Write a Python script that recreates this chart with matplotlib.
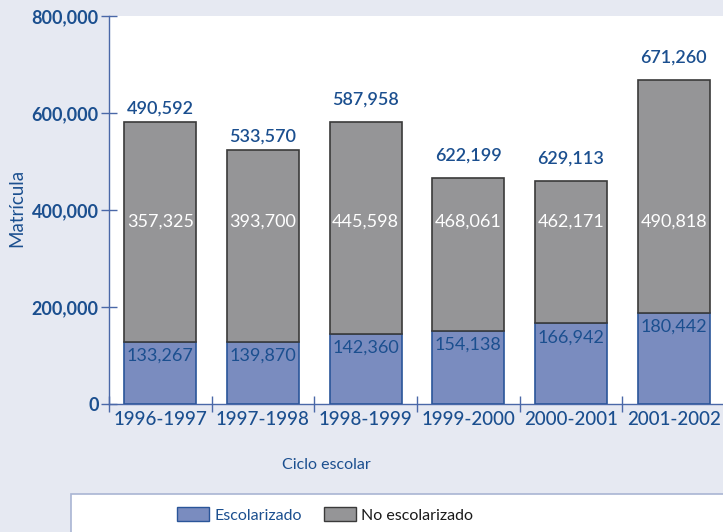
import matplotlib
matplotlib.use("Agg")
import matplotlib.pyplot as plt
from matplotlib.patches import Rectangle, Patch
from matplotlib.ticker import FuncFormatter

# ---- data ----
ciclos = ["1996-1997", "1997-1998", "1998-1999", "1999-2000", "2000-2001", "2001-2002"]
# printed values
escolarizado = [133267, 139870, 142360, 154138, 166942, 180442]
no_escolarizado = [357325, 393700, 445598, 468061, 462171, 490818]
total = [490592, 533570, 587958, 622199, 629113, 671260]
# bar heights as drawn in the reference
escolarizado_bar = [129000, 129000, 145000, 151000, 167000, 189000]
total_bar = [582000, 524000, 583000, 466500, 460000, 669000]
yticks = [0, 200000, 400000, 600000, 800000]

# ---- style ----
BG = "#e6e9f2"
BLUE_TXT = "#1b4f8f"
BLUE_FILL = "#7a8cbf"
BLUE_EDGE = "#2a5599"
GRAY_FILL = "#959597"
GRAY_EDGE = "#3a3a3a"
AXIS = "#4a68a8"
FONT = ["Lato", "DejaVu Sans"]
plt.rcParams["font.family"] = FONT

fig = plt.figure(figsize=(7.23, 5.32), dpi=100, facecolor=BG)
W, H = 723, 532
ax = fig.add_axes([109 / W, 1 - 404.3 / H, (725 - 109) / W, (404.3 - 16.3) / H])
ax.set_facecolor("white")

x = list(range(len(ciclos)))
gray_h = [t - e for t, e in zip(total_bar, escolarizado_bar)]
ax.bar(x, escolarizado_bar, width=0.70, color=BLUE_FILL, edgecolor=BLUE_EDGE, linewidth=1.2, zorder=3)
ax.bar(x, gray_h, bottom=escolarizado_bar, width=0.70, color=GRAY_FILL, edgecolor=GRAY_EDGE,
       linewidth=1.2, zorder=3)

ax.set_xlim(-0.5, len(ciclos) - 0.5)
ax.set_ylim(0, 800000)

fmt = lambda v: f"{v:,.0f}"
top_pad = [9.5, 9.5, 16, 16, 16, 16]
for i in x:
    ax.annotate(fmt(total[i]), (i, total_bar[i]), xytext=(0, top_pad[i]), textcoords="offset points",
                ha="center", va="center", color=BLUE_TXT, fontsize=13, fontweight="semibold")
    ax.annotate(fmt(escolarizado[i]), (i, escolarizado_bar[i]), xytext=(0, -10), textcoords="offset points",
                ha="center", va="center", color=BLUE_TXT, fontsize=13)
    ax.text(i, 376000, fmt(no_escolarizado[i]), ha="center", va="center", color="white", fontsize=13)

for s in ["top", "right"]:
    ax.spines[s].set_visible(False)
for s in ["left", "bottom"]:
    ax.spines[s].set_color(AXIS)
    ax.spines[s].set_linewidth(1.0)

ax.set_yticks(yticks)
ax.yaxis.set_major_formatter(FuncFormatter(lambda v, p: fmt(v)))
ax.tick_params(axis="y", direction="inout", length=11, width=1, color=AXIS, pad=2,
               labelsize=13, labelcolor=BLUE_TXT)
for lab in ax.get_yticklabels():
    lab.set_fontweight("bold")

ax.set_xticks([i - 0.5 for i in range(len(ciclos) + 1)])
ax.set_xticklabels([])
ax.tick_params(axis="x", which="major", direction="inout", length=11, width=1, color=AXIS)
ax.set_xticks(x, minor=True)
ax.set_xticklabels(ciclos, minor=True)
ax.tick_params(axis="x", which="minor", length=0, pad=5, labelsize=13.5, labelcolor=BLUE_TXT)
for lab in ax.get_xticklabels(minor=True):
    lab.set_fontweight("medium")

fig.text(16.7 / W, 1 - 208 / H, "Matrícula", rotation=90, ha="center", va="center",
         color=BLUE_TXT, fontsize=13.5)
fig.text(326.7 / W, 1 - 465 / H, "Ciclo escolar", ha="center", va="center",
         color=BLUE_TXT, fontsize=11.5)

# legend box
fig.patches.append(Rectangle((70.7 / W, -0.05), 1.0, (532 - 494) / H + 0.05, transform=fig.transFigure,
                             facecolor="white", edgecolor="#a9b5d3", linewidth=1.2, zorder=0))
handles = [Patch(facecolor=BLUE_FILL, edgecolor=BLUE_EDGE, label="Escolarizado"),
           Patch(facecolor=GRAY_FILL, edgecolor=GRAY_EDGE, label="No escolarizado")]
leg = fig.legend(handles=handles, loc="center", bbox_to_anchor=(325 / W, 1 - 515 / H), ncol=2,
                 frameon=False, fontsize=11.5, handlelength=2.0, handleheight=0.95,
                 handletextpad=0.3, columnspacing=1.4)
leg.get_texts()[0].set_color(BLUE_TXT)
leg.get_texts()[1].set_color("#1a1a1a")

fig.savefig("out.png", dpi=100, facecolor=BG)
